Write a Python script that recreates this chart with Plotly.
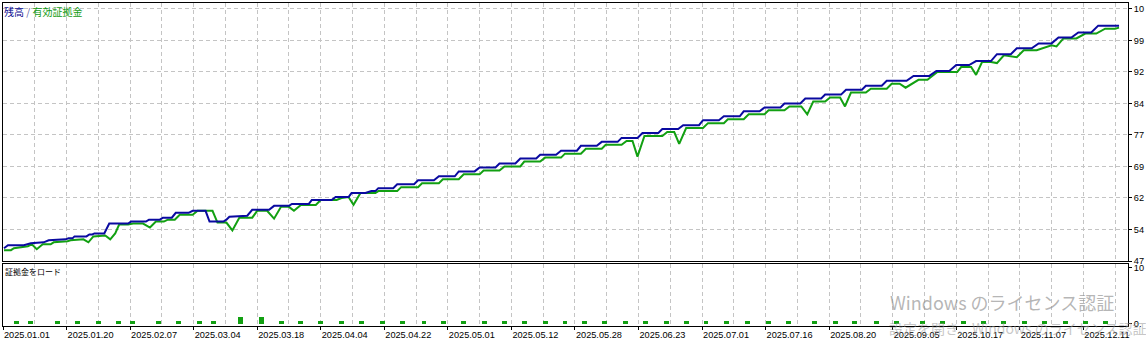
import plotly.graph_objects as go

# ---- data (deal index on x, balance/equity in thousands) ----
balance_x = [0.5, 2.5, 10.5, 14, 20.5, 23, 31.5, 33, 35, 36, 42, 43.5, 45, 46, 51, 53.5,
             63, 64.5, 72, 73.5, 79, 80.5, 85, 87, 93.5, 95.5, 102, 104, 111, 112.5, 114, 123, 125.5,
             134, 136.5, 144, 145.5, 154, 155.5, 165.5, 167.5, 174, 175.5, 182.5, 185.5, 187.5, 189,
             196.5, 198.5, 207, 209, 217, 219.5, 227.5, 229.5, 237.5, 240, 248, 250, 258, 260.5,
             268.5, 270.5, 278.5, 281, 289, 291, 299, 301.5, 309.5, 311.5, 319.5, 322, 330, 332,
             340, 342.5, 350.5, 352.5, 360.5, 363, 371, 373, 381, 383.5, 391.5, 393.5, 401.5, 404,
             412, 414, 422, 424.5, 432.5, 434.5, 442.5, 445, 455, 458.5,
             466.5, 470, 476.5, 480, 486.5, 490, 497.5, 500.5, 507.5, 510.5, 518, 521.5, 528, 531.5,
             538, 541.5, 548, 551.5, 562]
balance_y = [50.05, 50.75, 50.75, 51.22, 51.45, 51.92, 52.16, 52.39, 52.39, 52.86, 52.86, 53.33, 53.33, 53.56, 53.56, 55.91,
             55.91, 56.38, 56.38, 56.84, 56.84, 57.31, 57.31, 58.48, 58.48, 58.95, 58.95, 56.38, 56.38, 56.84, 57.55, 57.78, 59.19,
             59.19, 60.13, 60.13, 60.59, 60.59, 61.53, 61.53, 62.23, 62.23, 63.17, 63.17, 63.64, 63.64, 64.34,
             64.34, 65.28, 65.28, 66.22, 66.22, 67.16, 67.16, 68.33, 68.33, 69.27, 69.27, 70.20, 70.20, 71.38,
             71.38, 72.31, 72.31, 73.25, 73.25, 74.42, 74.42, 75.36, 75.36, 76.30, 76.30, 77.47, 77.47, 78.41,
             78.41, 79.34, 79.34, 80.52, 80.52, 81.45, 81.45, 82.63, 82.63, 83.56, 83.56, 84.50, 84.50, 85.67,
             85.67, 86.61, 86.61, 87.78, 87.78, 88.72, 88.72, 89.89, 89.89, 91.06,
             91.06, 92.23, 92.23, 93.64, 93.64, 94.58, 94.58, 96.22, 96.22, 97.63, 97.63, 98.80, 98.80, 100.20,
             100.20, 101.38, 101.38, 103.02, 103.02]

equity_x = [0.5, 4, 5.5, 10.5, 12.5, 14.5, 17, 20, 24, 25.5, 32.5, 34, 40.5, 43, 45.5, 51.5, 54, 56.5, 58.5,
            63, 65.5, 70.5, 74, 77, 81, 83, 86.5, 89, 95.5, 98, 105.5, 108, 112.5, 115.5, 119, 125.5, 128,
            133, 136.5, 140, 144, 146.5, 150, 157.5, 160, 168, 170.5, 174, 176.5, 180, 187.5, 189,
            191.5, 198.5, 200.5, 209, 211, 219.5, 221.5, 229.5, 232, 240, 242, 250, 252.5, 260.5, 262.5,
            270.5, 273, 281, 283, 291, 293.5, 301.5, 303.5, 311.5, 314, 317, 319.5, 323, 332, 334.5, 338,
            340.5, 344, 352.5, 355, 363, 365, 373, 375.5, 383.5, 385.5, 393.5, 396, 402, 405, 408, 414,
            416.5, 421.5, 424, 427, 434.5, 437, 445, 447.5, 451.5, 454.5, 458, 461, 465.5,
            470.5, 480.5, 482.5, 487.5, 490, 493, 497.5, 500.5, 504, 510.5, 514, 520.5, 528, 530.5, 534,
            540.5, 545, 550.5, 555, 560, 562]
equity_y = [49.58, 49.58, 50.05, 50.28, 50.52, 50.98, 49.81, 50.98, 50.98, 51.45, 51.69, 51.92, 52.16, 51.45, 52.86, 53.09, 52.16, 53.56, 55.67,
            55.67, 55.91, 55.91, 54.97, 56.38, 56.38, 56.84, 56.84, 58.02, 58.02, 58.95, 58.95, 56.14, 56.14, 54.27, 57.31, 57.31, 58.95,
            58.95, 57.08, 59.89, 59.89, 58.95, 60.36, 60.36, 61.53, 61.53, 62.00, 62.23, 60.36, 63.17, 63.17, 63.64,
            63.64, 63.64, 64.58, 64.58, 65.52, 65.52, 66.45, 66.45, 67.63, 67.63, 68.56, 68.56, 69.50, 69.50, 70.67,
            70.67, 71.61, 71.61, 72.55, 72.55, 73.72, 73.72, 74.66, 74.66, 75.59, 75.59, 71.84, 76.77, 76.77, 77.70, 77.70,
            74.89, 78.64, 78.64, 79.81, 79.81, 80.75, 80.75, 81.92, 81.92, 82.86, 82.86, 83.80, 83.80, 81.92, 84.97, 84.97,
            85.91, 85.91, 83.80, 87.08, 87.08, 88.02, 88.02, 89.19, 89.19, 88.25, 89.19, 90.13, 90.13,
            92.00, 92.00, 93.17, 93.17, 91.30, 94.34, 94.34, 94.11, 95.98, 95.52, 97.16, 97.16, 98.33, 98.09, 99.97,
            99.97, 101.14, 101.14, 102.31, 102.31, 102.55]

load_x = [7, 14, 27.5, 37.5, 48, 58, 65, 78.5, 88.5, 99, 106, 119.5, 130, 140, 150, 160, 170.5, 180.5,
          191, 201, 212, 222, 232, 242.5, 252.5, 262.5, 273, 283, 293, 303, 313.5, 323.5, 334, 344, 354,
          364.5, 375, 385.5, 395.5, 408.5, 419, 429, 440, 450, 463, 473, 483.5, 493.5, 504, 514.5, 524.5,
          535, 545, 555]
load_y = [4.7, 4.7, 4.7, 4.7, 4.7, 4.7, 4.7, 4.7, 4.7, 4.7, 4.7, 11.8, 11.8, 4.7, 4.7, 4.7, 4.7, 4.7,
          4.7, 4.7, 4.7, 4.7, 4.7, 4.7, 4.7, 4.7, 4.7, 4.7, 4.7, 4.7, 4.7, 4.7, 4.7, 4.7, 4.7,
          4.7, 4.7, 4.7, 4.7, 4.7, 4.7, 4.7, 4.7, 4.7, 4.7, 4.7, 4.7, 4.7, 4.7, 4.7, 4.7,
          4.7, 4.7, 4.7]

date_ticks = [0, 32, 64, 96, 128, 160, 192, 224, 256, 288, 320, 352, 384, 416, 448, 480, 512, 544]
date_labels = ["2025.01.01", "2025.01.20", "2025.02.07", "2025.03.04", "2025.03.18", "2025.04.04",
               "2025.04.22", "2025.05.01", "2025.05.12", "2025.05.28", "2025.06.23", "2025.07.01",
               "2025.07.16", "2025.08.20", "2025.09.05", "2025.10.17", "2025.11.07", "2025.12.11"]
top_ticks = [47, 54.5, 62, 69.5, 77, 84.5, 92, 99.5, 107]
top_labels = ["47", "54", "62", "69", "77", "84", "92", "99", "10"]
low_ticks = [0, 100]
low_labels = ["0.", "10"]

BLUE = "#0a0aa0"
GREEN = "#12a012"
GRID = "#c4c4c4"
FONT = "Liberation Sans"
CJK = "Noto Sans CJK JP"

fig = go.Figure()
fig.add_trace(go.Scatter(x=equity_x, y=equity_y, mode="lines", line=dict(color=GREEN, width=2),
                         xaxis="x", yaxis="y", hoverinfo="skip"))
fig.add_trace(go.Scatter(x=balance_x, y=balance_y, mode="lines", line=dict(color=BLUE, width=2),
                         xaxis="x", yaxis="y", hoverinfo="skip"))
fig.add_trace(go.Bar(x=load_x, y=load_y, width=2.5, marker=dict(color=GREEN, line=dict(width=0)),
                     xaxis="x2", yaxis="y2", hoverinfo="skip"))

xcommon = dict(range=[0, 566.5], showgrid=True, gridcolor=GRID, griddash="4px,3px", gridwidth=1,
               tickmode="array", tickvals=date_ticks, zeroline=False,
               showline=True, linecolor="black", linewidth=1, mirror=True,
               minor=dict(tickmode="linear", tick0=0, dtick=16, showgrid=True, gridcolor=GRID,
                          griddash="4px,3px", gridwidth=1, ticks=""))

fig.update_layout(
    width=1146, height=342,
    margin=dict(l=2, r=11, t=2, b=12),
    paper_bgcolor="white", plot_bgcolor="white",
    showlegend=False, bargap=0,
    xaxis=dict(**xcommon, anchor="y", showticklabels=False, ticks=""),
    xaxis2=dict(**xcommon, anchor="y2", ticktext=date_labels, showticklabels=True,
                ticks="outside", ticklen=3, tickcolor="black", tickwidth=1,
                ticklabelposition="outside right",
                tickfont=dict(family=FONT, size=9.2, color="black")),
    yaxis=dict(domain=[0.2012, 1], range=[47, 108.41], side="right", anchor="x",
               tickmode="array", tickvals=top_ticks, ticktext=top_labels,
               showgrid=True, gridcolor=GRID, griddash="4px,3px", gridwidth=1, zeroline=False,
               ticks="outside", ticklen=3, tickcolor="black",
               showline=True, linecolor="black", linewidth=1, mirror=True,
               tickfont=dict(family=FONT, size=9.2, color="black")),
    yaxis2=dict(domain=[0, 0.1921], range=[-4, 107], side="right", anchor="x2",
                tickmode="array", tickvals=low_ticks, ticktext=low_labels,
                showgrid=False, zeroline=False,
                ticks="outside", ticklen=3, tickcolor="black",
                showline=True, linecolor="black", linewidth=1, mirror=True,
                tickfont=dict(family=FONT, size=9.2, color="black")),
)

fig.add_annotation(xref="paper", yref="paper", x=-0.001, y=0.9726, xanchor="left", yanchor="middle",
                   showarrow=False,
                   text='<span style="color:#0a0a90">残高</span><span style="color:#6060a0"> / </span>'
                        '<span style="color:#129a12">有効証拠金</span>',
                   font=dict(family=CJK, size=10))
fig.add_annotation(xref="paper", yref="paper", x=0.0, y=0.1677, xanchor="left", yanchor="middle",
                   showarrow=False, text="証拠金をロード", font=dict(family=CJK, size=8, color="black"))
fig.add_annotation(xref="paper", yref="paper", x=0.787, y=0.0732, xanchor="left", yanchor="middle",
                   showarrow=False, text="Windows のライセンス認証",
                   font=dict(family=CJK, size=18, color="rgba(150,150,150,0.7)"))
fig.add_annotation(xref="paper", yref="paper", x=0.786, y=-0.0061, xanchor="left", yanchor="middle",
                   showarrow=False, text="設定を開き、Windows のライセンス認証を行ってください。",
                   font=dict(family=CJK, size=14, color="rgba(150,150,150,0.55)"))

fig.write_html("out.html")
